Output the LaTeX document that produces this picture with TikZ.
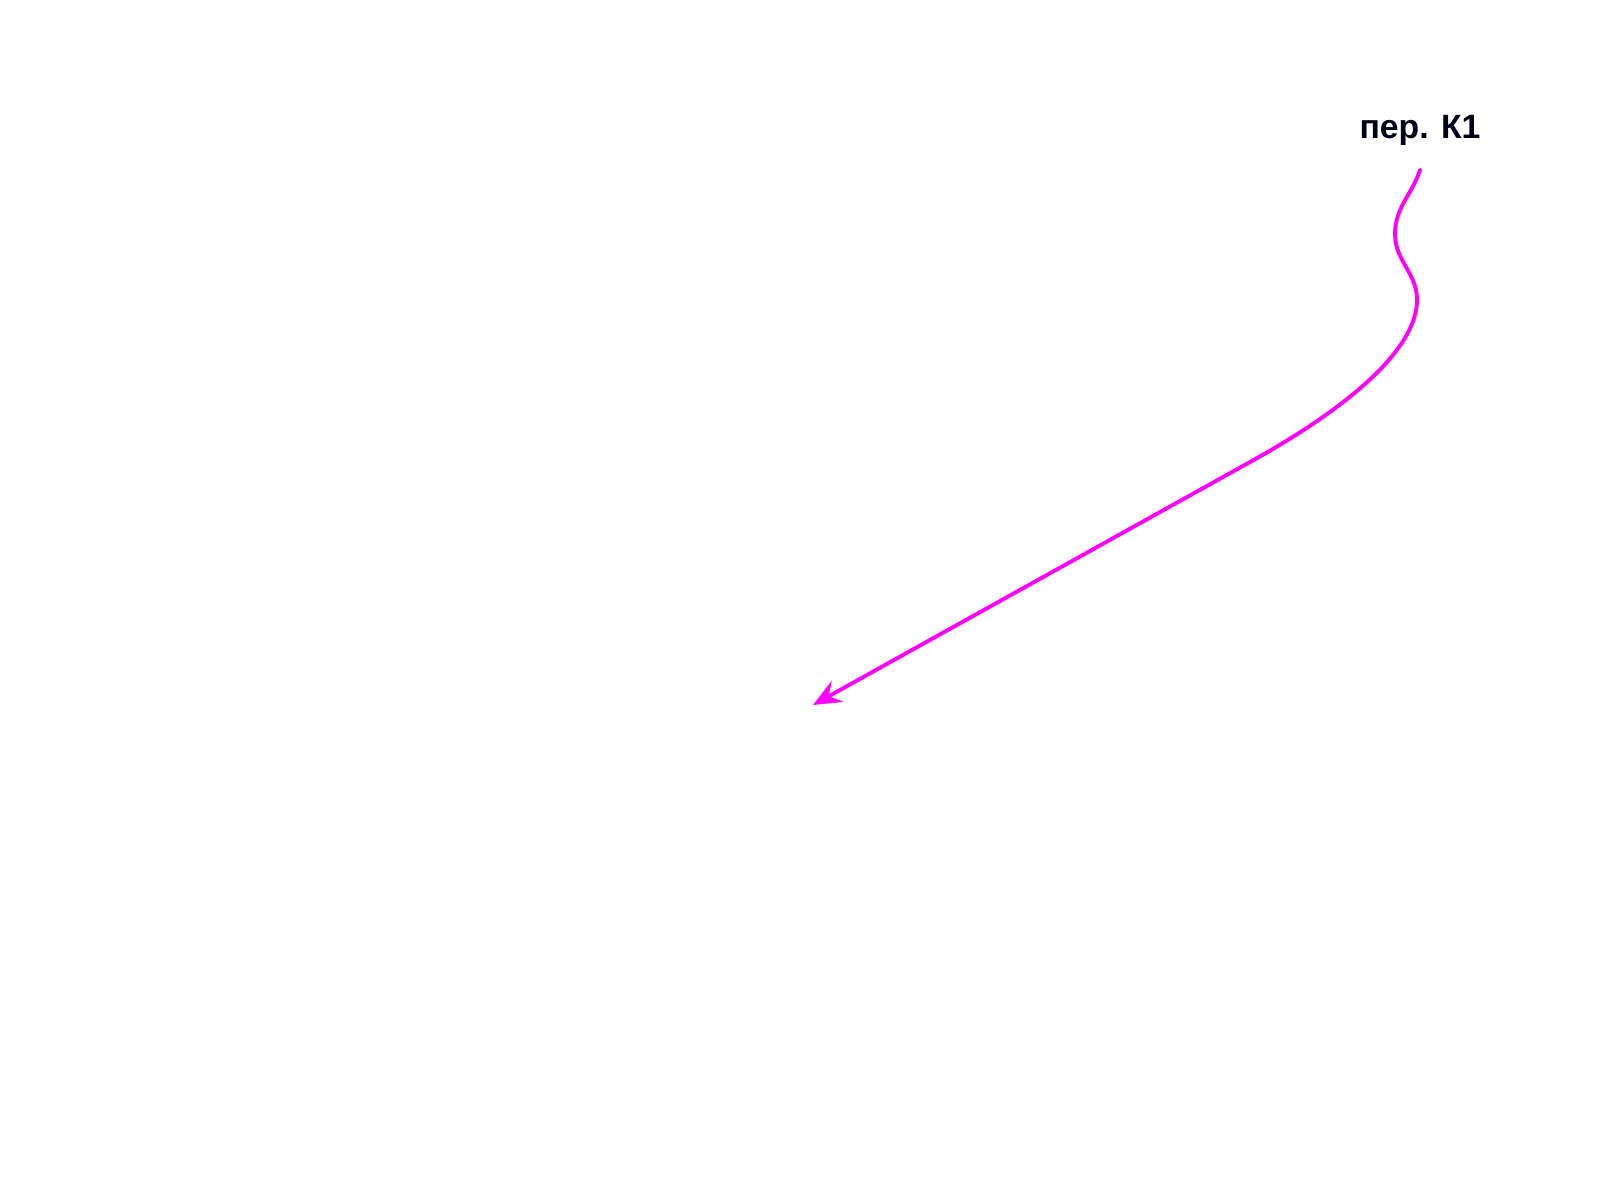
\documentclass[tikz,border=0pt]{standalone}
\usepackage{fontspec}
\setmainfont{Liberation Sans}
\usetikzlibrary{arrows.meta}
\usetikzlibrary{positioning}
\definecolor{pink}{RGB}{255,0,255}

\begin{document}
\begin{tikzpicture}[
    beschriftung/.style={font=\bfseries\fontsize{9.6pt}{11pt}\selectfont, text=black!90!blue, inner sep=0pt},
    pfeil/.style={pink, line width=1.1pt, line cap=round,
        -{Stealth[length=2.8mm, width=2.4mm, inset=1mm]}}
]
    % Rahmen festlegen
    \useasboundingbox (0,0) rectangle (16,12);

    % Beschriftung oben rechts
    \node[beschriftung] (per) at (14.20,10.70) {пер. К1};

    % Start- und Endpunkt des Pfeils
    \coordinate[below=0.24 of per.south] (start);
    \coordinate (ziel) at (8.13,4.95);

    % geschwungener Pfeil
    \draw[pfeil] (start) to[out=-108,in=90] (13.95,9.66)
        to[out=-90,in=90] (14.17,9.00)
        .. controls +(0,-0.45) and +(1.085,0.6) .. (12.50,7.38)
        -- (ziel);
\end{tikzpicture}
\end{document}
